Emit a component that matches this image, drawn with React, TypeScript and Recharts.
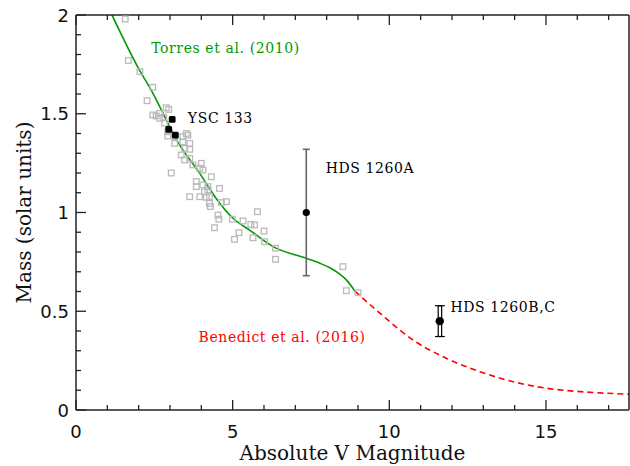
import { ComposedChart, XAxis, YAxis, Line, Scatter, ErrorBar, ReferenceDot, Label } from 'recharts'

// tick positions
const xTicks = [0, 1, 2, 3, 4, 5, 6, 7, 8, 9, 10, 11, 12, 13, 14, 15, 16, 17]
const yTicks = [0, 0.1, 0.2, 0.3, 0.4, 0.5, 0.6, 0.7, 0.8, 0.9, 1, 1.1, 1.2, 1.3, 1.4, 1.5, 1.6, 1.7, 1.8, 1.9, 2]

// Torres et al. (2010) relation (solid green)
const torresMag = [1.15, 2.03, 2.4, 2.99, 3.15, 3.95, 4.48, 5.01, 5.54, 6.29, 7.35, 7.8, 8.1, 8.4, 8.65, 8.9]
const torresMass = [2.0, 1.72, 1.62, 1.434, 1.384, 1.198, 1.07, 0.971, 0.911, 0.827, 0.768, 0.742, 0.72, 0.69, 0.655, 0.602]

// Benedict et al. (2016) relation (dashed red)
const benedictMag = [8.9, 9.7, 10.76, 11.83, 12.89, 13.96, 15.02, 16.09, 17.7]
const benedictMass = [0.602, 0.49, 0.354, 0.261, 0.194, 0.143, 0.11, 0.093, 0.08]

// comparison sample (open grey squares)
const sampleMag = [
  1.57, 1.67, 2.04, 2.45, 2.27, 2.45, 2.96, 2.56, 2.67, 2.8, 3.57, 2.93, 2.67, 2.83, 2.93, 3.15, 3.41,
  3.41, 3.63, 3.47, 3.15, 3.36, 3.47, 3.63, 4.0, 3.73, 3.95, 4.05, 3.04, 4.32, 3.84, 3.84, 4.05, 4.21,
  4.58, 3.63, 3.95, 4.26, 4.26, 4.8, 4.1, 4.16, 4.29, 4.64, 4.53, 4.56, 4.42, 4.99, 5.79, 5.33, 5.58,
  5.7, 5.2, 5.06, 5.65, 6.0, 6.02, 6.37, 6.37, 8.52, 8.63, 9.0, 3.52, 3.63, 2.88, 4.21,
]
const sampleMass = [
  1.98, 1.77, 1.713, 1.634, 1.566, 1.494, 1.522, 1.489, 1.477, 1.482, 1.392, 1.387, 1.502, 1.452, 1.409,
  1.384, 1.384, 1.358, 1.35, 1.325, 1.35, 1.291, 1.266, 1.274, 1.249, 1.241, 1.224, 1.215, 1.2, 1.181,
  1.157, 1.131, 1.139, 1.114, 1.122, 1.08, 1.08, 1.08, 1.046, 1.055, 1.105, 1.077, 1.03, 1.05, 0.987,
  0.966, 0.923, 0.966, 1.004, 0.957, 0.94, 0.937, 0.898, 0.864, 0.872, 0.906, 0.852, 0.819, 0.763,
  0.726, 0.604, 0.594, 1.4, 1.32, 1.53, 1.131,
]

// YSC 133 components
const yscMag = [3.07, 2.96, 3.17]
const yscMass = [1.472, 1.421, 1.392]

// HDS 1260A with mass error
const hdsAMag = [7.35]
const hdsAMass = [1.0]
const hdsAErr = [0.32]
// HDS 1260B,C: combined point and the two overlapping error bars
const hdsBCMag = [11.61]
const hdsBCMass = [0.45]
const hdsBCBarMag = [11.56, 11.67]
const hdsBCBarMass = [0.45, 0.45]
const hdsBCErr = [0.078, 0.078]

// annotations
const noteText = ['Torres et al. (2010)', 'YSC 133', 'HDS 1260A', 'HDS 1260B,C', 'Benedict et al. (2016)']
const noteMag = [2.4, 3.57, 7.97, 11.95, 3.91]
const noteMass = [1.831, 1.477, 1.224, 0.52, 0.368]
const noteColor = ['#009a00', '#000', '#000', '#000', '#ff0000']

const pairs = (xs: number[], ys: number[]) => xs.map((x, i) => ({ x, y: ys[i] }))
const torresData = pairs(torresMag, torresMass)
const benedictData = pairs(benedictMag, benedictMass)
const sampleData = pairs(sampleMag, sampleMass)
const yscData = pairs(yscMag, yscMass)
const hdsAData = hdsAMag.map((x, i) => ({ x, y: hdsAMass[i], err: hdsAErr[i] }))
const hdsBCData = pairs(hdsBCMag, hdsBCMass)
const hdsBCBars = hdsBCBarMag.map((x, i) => ({ x, y: hdsBCBarMass[i], err: hdsBCErr[i] }))

const AXIS = '#222'
const TICK_FONT = 'DejaVu Sans'
const TEXT_FONT = 'DejaVu Serif'
const isMajorX = (v: number) => v % 5 === 0
const isMajorY = (v: number) => Math.abs(v * 2 - Math.round(v * 2)) < 1e-6

function BottomTick({ x, y, payload }: any) {
  const major = isMajorX(payload.value)
  return (
    <g>
      <line x1={x} x2={x} y1={y} y2={y - (major ? 10 : 5)} stroke={AXIS} strokeWidth={1.3} />
      {major && (
        <text x={x} y={y + 21} textAnchor="middle" dominantBaseline="central" fontFamily={TICK_FONT} fontSize={18} fill="#111">
          {payload.value}
        </text>
      )}
    </g>
  )
}

function TopTick({ x, y, payload }: any) {
  const major = isMajorX(payload.value)
  return <line x1={x} x2={x} y1={y} y2={y + (major ? 10 : 5)} stroke={AXIS} strokeWidth={1.3} />
}

function LeftTick({ x, y, payload }: any) {
  const major = isMajorY(payload.value)
  return (
    <g>
      <line x1={x} x2={x + (major ? 10 : 5)} y1={y} y2={y} stroke={AXIS} strokeWidth={1.3} />
      {major && (
        <text x={x - 7} y={y} textAnchor="end" dominantBaseline="central" fontFamily={TICK_FONT} fontSize={18} fill="#111">
          {payload.value}
        </text>
      )}
    </g>
  )
}

function RightTick({ x, y, payload }: any) {
  const major = isMajorY(payload.value)
  return <line x1={x} x2={x - (major ? 10 : 5)} y1={y} y2={y} stroke={AXIS} strokeWidth={1.3} />
}

const OpenSquare = ({ cx, cy }: any) => (
  <rect x={cx - 2.8} y={cy - 2.8} width={5.6} height={5.6} fill="none" stroke="#bababa" strokeWidth={1.3} />
)
const FilledSquare = ({ cx, cy }: any) => (
  <rect x={cx - 3.4} y={cy - 3.4} width={6.8} height={6.8} rx={1.5} fill="#000" />
)
const Dot = (r: number) => ({ cx, cy }: any) => <circle cx={cx} cy={cy} r={r} fill="#000" />
const NoShape = () => <g />

export default function App() {
  return (
    <div style={{ position: 'absolute', left: 0, top: 0, background: '#fff' }}>
      <ComposedChart width={630} height={466} margin={{ top: 14, right: 0, bottom: 0, left: 0 }}>
        <XAxis
          dataKey="x"
          type="number"
          domain={[0, 17.65]}
          allowDataOverflow
          ticks={xTicks}
          interval={0}
          height={56}
          tickSize={0}
          tickMargin={0}
          tickLine={false}
          tick={<BottomTick />}
          axisLine={{ stroke: AXIS, strokeWidth: 1.5 }}
        >
          <Label
            content={({ viewBox }: any) => (
              <text
                x={viewBox.x + viewBox.width / 2}
                y={viewBox.y + 43}
                textAnchor="middle"
                dominantBaseline="central"
                fontFamily={TEXT_FONT}
                fontSize={20}
                fill="#111"
              >
                Absolute V Magnitude
              </text>
            )}
          />
        </XAxis>
        <XAxis
          xAxisId="top"
          orientation="top"
          dataKey="x"
          type="number"
          domain={[0, 17.65]}
          allowDataOverflow
          ticks={xTicks}
          interval={0}
          height={1}
          tickSize={0}
          tickMargin={0}
          tickLine={false}
          tick={<TopTick />}
          axisLine={{ stroke: AXIS, strokeWidth: 1.5 }}
        />
        <YAxis
          dataKey="y"
          type="number"
          domain={[0, 2]}
          allowDataOverflow
          ticks={yTicks}
          interval={0}
          width={76}
          tickSize={0}
          tickMargin={0}
          tickLine={false}
          tick={<LeftTick />}
          axisLine={{ stroke: AXIS, strokeWidth: 1.5 }}
        >
          <Label
            content={({ viewBox }: any) => {
              const cx = viewBox.x + 24
              const cy = viewBox.y + viewBox.height / 2
              return (
                <text
                  x={cx}
                  y={cy}
                  transform={`rotate(-90 ${cx} ${cy})`}
                  textAnchor="middle"
                  dominantBaseline="central"
                  fontFamily={TEXT_FONT}
                  fontSize={20}
                  fill="#111"
                >
                  Mass (solar units)
                </text>
              )
            }}
          />
        </YAxis>
        <YAxis
          yAxisId="right"
          orientation="right"
          type="number"
          domain={[0, 2]}
          ticks={yTicks}
          interval={0}
          width={1}
          tickSize={0}
          tickMargin={0}
          tickLine={false}
          tick={<RightTick />}
          axisLine={{ stroke: AXIS, strokeWidth: 1.5 }}
        />

        <Scatter data={sampleData} dataKey="y" shape={<OpenSquare />} isAnimationActive={false} />
        <Line data={torresData} dataKey="y" type="monotone" stroke="#009a00" strokeWidth={1.6} dot={false} isAnimationActive={false} />
        <Line
          data={benedictData}
          dataKey="y"
          type="monotone"
          stroke="#ff0000"
          strokeWidth={1.6}
          strokeDasharray="6 4"
          dot={false}
          isAnimationActive={false}
        />
        <Scatter data={yscData} dataKey="y" shape={<FilledSquare />} isAnimationActive={false} />
        <Scatter data={hdsAData} dataKey="y" shape={Dot(3.6)} isAnimationActive={false}>
          <ErrorBar dataKey="err" direction="y" width={3.5} stroke="#666" strokeWidth={1.6} />
        </Scatter>
        <Scatter data={hdsBCBars} dataKey="y" shape={<NoShape />} isAnimationActive={false}>
          <ErrorBar dataKey="err" direction="y" width={3.2} stroke="#000" strokeWidth={1.2} />
        </Scatter>
        <Scatter data={hdsBCData} dataKey="y" shape={Dot(4.2)} isAnimationActive={false} />

        {noteText.map((t, i) => (
          <ReferenceDot
            key={t}
            x={noteMag[i]}
            y={noteMass[i]}
            r={0}
            stroke="none"
            fill="none"
            label={{
              value: t,
              position: 'right',
              offset: 0,
              fill: noteColor[i],
              fontFamily: TEXT_FONT,
              fontSize: 14,
              letterSpacing: 0.6,
            }}
          />
        ))}
      </ComposedChart>
    </div>
  )
}
